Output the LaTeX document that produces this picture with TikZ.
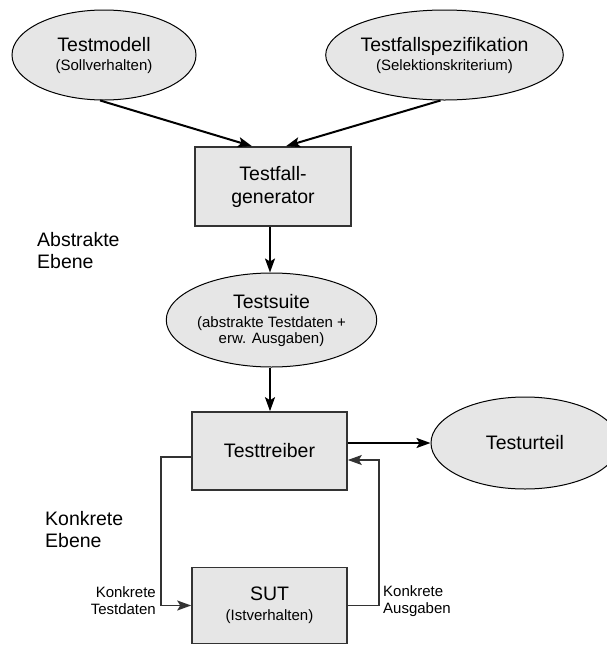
\documentclass[tikz,border=0pt]{standalone}
\usepackage{fontspec}
\setmainfont{Liberation Sans}
\usetikzlibrary{shapes.geometric,arrows.meta}
\definecolor{boxfill}{HTML}{E6E6E6}
\definecolor{boxline}{HTML}{333333}
\newcommand{\bigtxt}{\fontsize{19.5}{22}\selectfont}
\newcommand{\smalltxt}{\fontsize{15}{17}\selectfont}
\begin{document}
\begin{tikzpicture}[x=1pt,y=-1pt,
  oval/.style={ellipse, draw=black, line width=1pt, fill=boxfill, inner sep=0pt, align=center, font=\bigtxt},
  block/.style={rectangle, draw=boxline, line width=1.6pt, fill=boxfill, inner sep=0pt, align=center, font=\bigtxt},
  arr/.style={line width=2pt, -{Stealth[length=14pt,width=10pt,inset=3pt]}},
  loopline/.style={line width=1.5pt, draw=boxline, -{Stealth[length=14pt,width=10pt,inset=3pt]}},
  lbl/.style={font=\bigtxt, inner sep=0pt},
  sidelbl/.style={font=\smalltxt, inner sep=0pt}]
\useasboundingbox (0,0) rectangle (607,646);

% abstract level
\node[oval, minimum width=184pt, minimum height=90pt] (tm) at (104,55)
  {Testmodell\\[-3pt]{\smalltxt (Sollverhalten)}};
\node[oval, minimum width=185pt, minimum height=90pt] (tfs) at (444.5,55)
  {Testfallspezifikation\\[-3pt]{\smalltxt (Selektionskriterium)}};
\node[block, minimum width=156pt, minimum height=79pt] (gen) at (273,186.5)
  {Testfall-\\[1pt]generator};
\node[oval, minimum width=185pt, minimum height=94pt] (ts) at (271.5,320)
  {Testsuite\\[-3pt]{\smalltxt (abstrakte Testdaten +}\\[-6pt]{\smalltxt erw. Ausgaben)}};
\node[lbl, anchor=west, align=left] (abs) at (37,251) {Abstrakte\\Ebene};

% concrete level
\node[block, minimum width=155pt, minimum height=78pt] (drv) at (269.5,451)
  {Testtreiber};
\node[oval, minimum width=188pt, minimum height=92pt] (verdict) at (525,443)
  {Testurteil};
\node[block, minimum width=155pt, minimum height=76pt] (sut) at (269.5,605.5)
  {SUT\\[-2pt]{\smalltxt (Istverhalten)}};
\node[lbl, anchor=west, align=left] (konk) at (45,530) {Konkrete\\Ebene};
\node[sidelbl, anchor=east, align=right] (indata) at (156,601) {Konkrete\\Testdaten};
\node[sidelbl, anchor=west, align=left] (outdata) at (383,601) {Konkrete\\Ausgaben};

% corner points of the driver/SUT loop
\coordinate (inL) at (161,457);
\coordinate (outR) at (379,460);
\coordinate (midx) at (270,0);

% connectors
\draw[arr] (tm.265) -- ([xshift=-21pt]gen.north);
\draw[arr] (tfs.265) -- ([xshift=13pt]gen.north);
\draw[arr] (midx |- gen.south) -- (midx |- ts.north);
\draw[arr] (midx |- ts.south) -- (midx |- drv.north);
\draw[arr] (drv.east |- verdict.west) -- (verdict.west);
\draw[loopline] (drv.west |- inL) -- (inL) -- (inL |- sut.west) -- (sut.west);
\draw[loopline] (sut.east) -- (outR |- sut.east) -- (outR) -- (drv.east |- outR);
\end{tikzpicture}
\end{document}
